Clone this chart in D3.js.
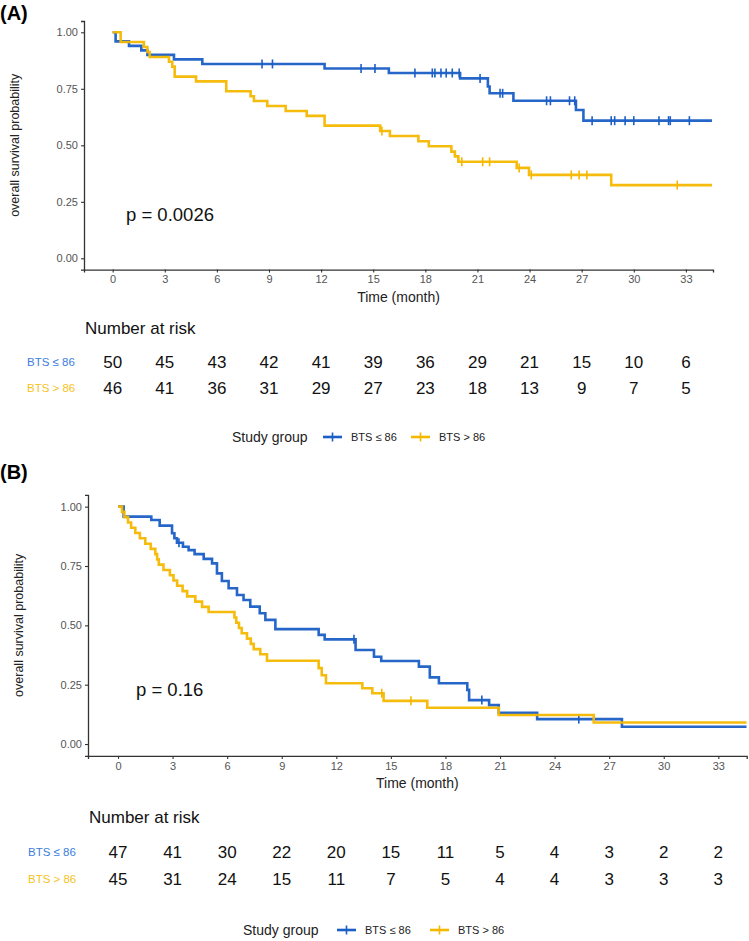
<!DOCTYPE html>
<html><head><meta charset="utf-8">
<script src="https://cdn.jsdelivr.net/npm/d3@7"></script>
<style>body{margin:0;background:#fff}svg{display:block}text{font-family:"Liberation Sans",Arial,sans-serif}</style>
</head><body>
<script>
// ---------- data ----------
const timeTicks = [0,3,6,9,12,15,18,21,24,27,30,33];
const survTicks = [0,0.25,0.5,0.75,1];
const groups = ["BTS \u2264 86", "BTS > 86"];
const colors = ["#1a5ec6", "#f4b800"];
const labelColors = ["#3b7ddd", "#f6c21c"];

// Panel A
const aBlueTime = [0,0.17,0.94,1.65,2.0,3.53,5.16,12.2,15.9,20.0,21.6,21.7,23.07,26.67,27.1];
const aBlueSurv = [1,0.96,0.94,0.92,0.90,0.88,0.86,0.84,0.82,0.796,0.76,0.73,0.697,0.656,0.609];
const aBlueCens = [8.6,9.2,14.3,15.1,17.4,18.4,18.55,18.9,19.2,19.55,19.95,21.15,22.3,22.45,24.98,25.2,26.3,26.6,27.6,28.7,28.9,29.5,30.0,31.45,32.0,32.1,33.2];
const aYellowTime = [0,0.46,1.8,2.0,2.13,3.24,3.43,3.57,4.8,6.54,7.94,8.13,8.9,9.96,11.17,12.2,15.4,15.96,17.6,18.2,19.5,19.7,19.9,23.26,23.97,28.7];
const aYellowSurv = [1,0.957,0.935,0.913,0.891,0.87,0.848,0.804,0.783,0.739,0.717,0.696,0.674,0.652,0.63,0.587,0.563,0.541,0.518,0.496,0.472,0.451,0.427,0.40,0.369,0.324];
const aYellowCens = [15.5,20.1,21.3,21.7,23.4,24.1,26.4,26.85,27.3,32.5];
const aRiskBlue = [50,45,43,42,41,39,36,29,21,15,10,6];
const aRiskYellow = [46,41,36,31,29,27,23,18,13,9,7,5];
const aEnd = 34.5;
const aP = "p = 0.0026";

// Panel B
const bBlueTime = [0,0.31,1.83,2.29,2.97,3.1,3.24,3.57,3.88,4.21,4.71,5.17,5.44,5.71,6.08,6.54,6.9,7.27,7.79,8.1,8.65,11.03,11.36,13.06,14.07,14.47,16.54,17.14,17.64,19.2,19.3,20.4,20.93,23.04,27.7];
const bBlueSurv = [1,0.958,0.944,0.92,0.888,0.867,0.848,0.831,0.817,0.80,0.78,0.761,0.719,0.687,0.656,0.628,0.607,0.579,0.551,0.523,0.484,0.46,0.441,0.396,0.368,0.35,0.326,0.281,0.256,0.228,0.185,0.164,0.132,0.105,0.073];
const bBlueCens = [3.35,12.97,20.0,25.33];
const bYellowTime = [0,0.22,0.35,0.55,0.72,0.95,1.2,1.5,1.8,2.05,2.15,2.24,2.5,2.85,3.05,3.25,3.55,3.8,4.25,4.62,4.98,6.4,6.5,6.65,6.8,7.09,7.3,7.46,7.82,8.19,11.03,11.2,11.43,13.43,13.98,14.6,17.0,20.93,26.15];
const bYellowSurv = [1,0.978,0.956,0.933,0.911,0.889,0.867,0.844,0.822,0.80,0.778,0.756,0.733,0.711,0.689,0.667,0.644,0.622,0.60,0.578,0.556,0.533,0.511,0.489,0.467,0.444,0.422,0.40,0.378,0.351,0.32,0.29,0.256,0.235,0.214,0.182,0.153,0.122,0.091];
const bYellowCens = [14.5,16.1];
const bRiskBlue = [47,41,30,22,20,15,11,5,4,3,2,2];
const bRiskYellow = [45,31,24,15,11,7,5,4,4,3,3,3];
const bEnd = 34.55;
const bP = "p = 0.16";

// ---------- drawing ----------
const svg = d3.select("body").append("svg").attr("width",749).attr("height",941);

function survAt(times, survs, t){ let s=1; for(let i=0;i<times.length;i++){ if(times[i]<=t) s=survs[i]; } return s; }

function panel(cfg){
  const g = svg.append("g");
  const x = d3.scaleLinear().domain([-1.65, 34.56]).range([cfg.x0, cfg.x1]);
  const y = d3.scaleLinear().domain([-0.05, 1.05]).range([cfg.y1, cfg.y0]);

  // panel letter
  g.append("text").attr("x",0).attr("y",cfg.letterY).attr("font-size",20).attr("font-weight","bold").attr("fill","#000").text(cfg.letter);

  // axes
  const ax = g.append("g").attr("transform",`translate(0,${cfg.y1})`)
    .call(d3.axisBottom(x).tickValues(timeTicks).tickSize(3).tickPadding(3).tickFormat(d3.format("d")));
  const ay = g.append("g").attr("transform",`translate(${cfg.x0},0)`)
    .call(d3.axisLeft(y).tickValues(survTicks).tickSize(3).tickPadding(3).tickFormat(d3.format(".2f")));
  [ax,ay].forEach(a=>{
    a.select(".domain").attr("stroke","#333").attr("stroke-width",1.3);
    a.selectAll(".tick line").attr("stroke","#333").attr("stroke-width",1.1);
    a.selectAll(".tick text").attr("fill","#555").attr("font-size",11).attr("font-family","'Liberation Sans',Arial,sans-serif");
  });

  g.append("text").attr("transform",`translate(${cfg.x0-69},${(cfg.y0+cfg.y1)/2}) rotate(-90)`)
    .attr("text-anchor","middle").attr("dy","0.35em").attr("font-size",12.5).attr("fill","#222").text("overall survival probability");
  g.append("text").attr("x",(cfg.x0+cfg.x1)/2).attr("y",cfg.y1+32).attr("text-anchor","middle")
    .attr("font-size",14).attr("fill","#222").text("Time (month)");

  const line = d3.line().x(d=>x(d[0])).y(d=>y(d[1])).curve(d3.curveStepAfter);
  cfg.series.forEach((s,i)=>{
    const pts = s.time.map((t,k)=>[t, s.surv[k]]);
    pts.push([cfg.end, s.surv[s.surv.length-1]]);
    g.append("path").datum(pts).attr("fill","none").attr("stroke",colors[i]).attr("stroke-width",2.6)
      .attr("stroke-opacity",0.95).attr("d",line);
    g.selectAll(null).data(s.cens).enter().append("line")
      .attr("x1",d=>x(d)).attr("x2",d=>x(d))
      .attr("y1",d=>y(survAt(s.time,s.surv,d))-4.5).attr("y2",d=>y(survAt(s.time,s.surv,d))+4.5)
      .attr("stroke",colors[i]).attr("stroke-width",1.6);
  });

  g.append("text").attr("x",cfg.pX).attr("y",cfg.pY).attr("font-size",18.5).attr("fill","#111").text(cfg.p);

  // risk table
  g.append("text").attr("x",cfg.x0+1).attr("y",cfg.riskTitleY).attr("dy","0.35em").attr("font-size",17).attr("fill","#111").text("Number at risk");
  cfg.risk.forEach((r,i)=>{
    const ry = cfg.riskY[i];
    g.append("text").attr("x",cfg.labelX).attr("y",ry).attr("dy","0.35em").attr("font-size",11.5)
      .attr("fill",labelColors[i]).text(groups[i]);
    g.selectAll(null).data(r).enter().append("text")
      .attr("x",(d,k)=>x(timeTicks[k])).attr("y",ry).attr("dy","0.35em").attr("text-anchor","middle")
      .attr("font-size",17).attr("fill","#111").text(d=>d);
  });

  // legend
  const lg = g.append("g").attr("transform",`translate(${cfg.legX},${cfg.legY})`);
  lg.append("text").attr("x",0).attr("y",0).attr("dy","0.35em").attr("font-size",14).attr("fill","#222").text("Study group");
  const items = [[cfg.legItems[0],groups[0]],[cfg.legItems[1],groups[1]]];
  items.forEach((it,i)=>{
    const lx = it[0];
    lg.append("line").attr("x1",lx).attr("x2",lx+19).attr("y1",0).attr("y2",0).attr("stroke",colors[i]).attr("stroke-width",2.6);
    lg.append("line").attr("x1",lx+9.5).attr("x2",lx+9.5).attr("y1",-4.5).attr("y2",4.5).attr("stroke",colors[i]).attr("stroke-width",1.6);
    lg.append("text").attr("x",lx+28).attr("y",0).attr("dy","0.35em").attr("font-size",11).attr("fill","#222").text(it[1]);
  });
}

panel({letter:"(A)", letterY:20, x0:84, x1:713, y0:21, y1:269.6, end:aEnd,
  series:[{time:aBlueTime,surv:aBlueSurv,cens:aBlueCens},{time:aYellowTime,surv:aYellowSurv,cens:aYellowCens}],
  p:aP, pX:126, pY:221, riskTitleY:328, riskY:[362,388], labelX:27, risk:[aRiskBlue,aRiskYellow],
  legX:232, legY:437, legItems:[91,179]});

panel({letter:"(B)", letterY:479, x0:88, x1:746.7, y0:494.8, y1:755.9, end:bEnd,
  series:[{time:bBlueTime,surv:bBlueSurv,cens:bBlueCens},{time:bYellowTime,surv:bYellowSurv,cens:bYellowCens}],
  p:bP, pX:136, pY:696, riskTitleY:816.7, riskY:[851.7,879], labelX:28, risk:[bRiskBlue,bRiskYellow],
  legX:243, legY:930, legItems:[94,187]});
</script>
</body></html>
